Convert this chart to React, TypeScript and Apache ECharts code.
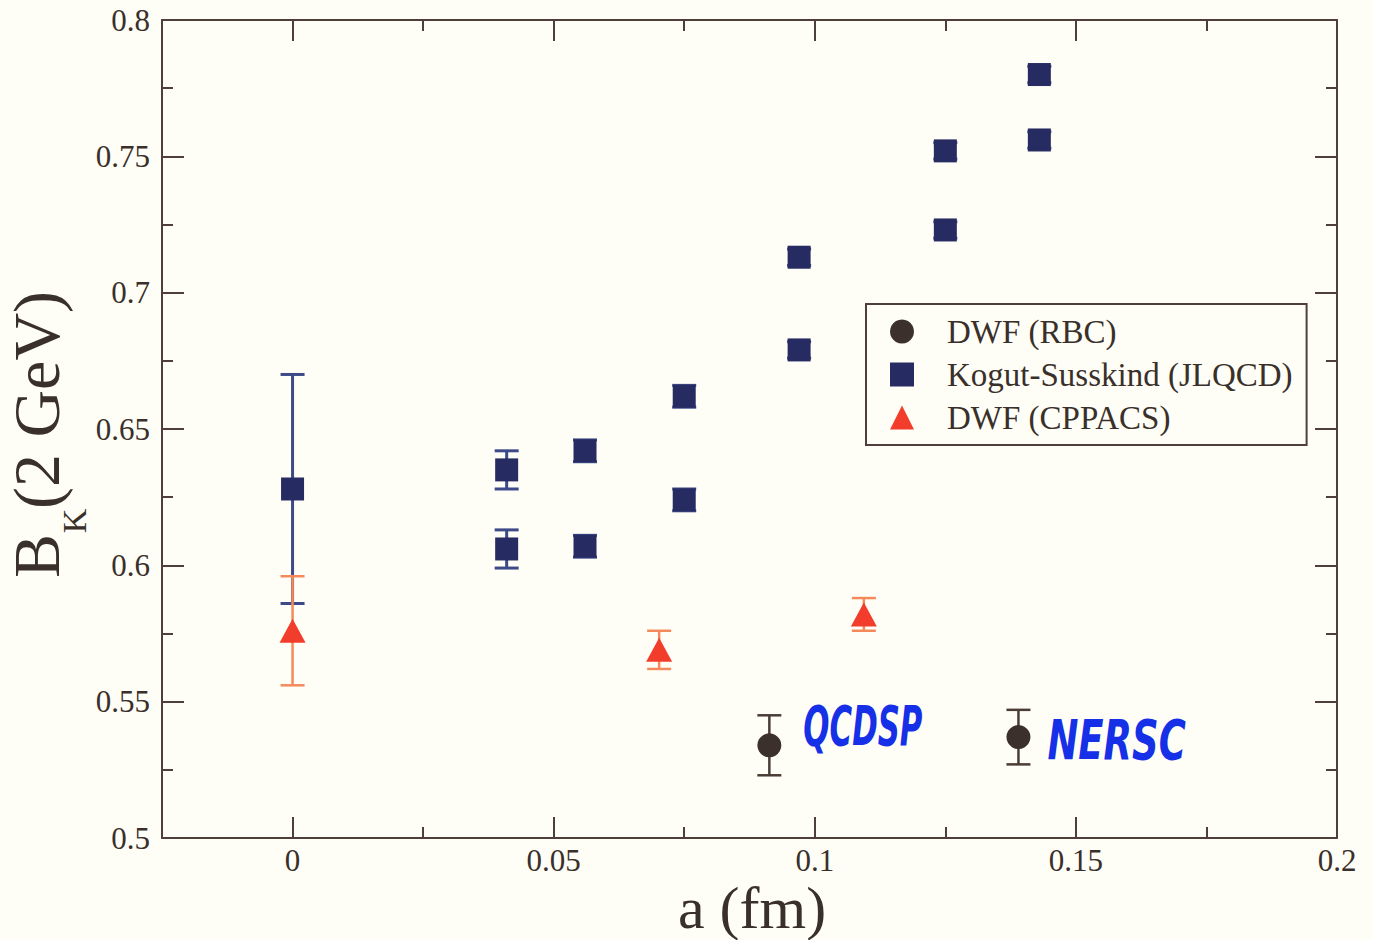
import React, { useEffect, useRef } from "react";
import * as echarts from "echarts";

// ---- data ----
const rbcX = [0.0913, 0.139];
const rbcY = [0.534, 0.537];
const rbcErr = [0.011, 0.010];
const rbcNotes = ["QCDSP", "NERSC"];

const ksX = [0, 0.041, 0.041, 0.056, 0.056, 0.075, 0.075, 0.097, 0.097, 0.125, 0.125, 0.143, 0.143];
const ksY = [0.628, 0.635, 0.606, 0.642, 0.607, 0.662, 0.624, 0.713, 0.679, 0.752, 0.723, 0.780, 0.756];
const ksErr = [0.042, 0.007, 0.007, 0.004, 0.004, 0.004, 0.004, 0.003, 0.003, 0.003, 0.003, 0.003, 0.003];

const cpX = [0, 0.0702, 0.1094];
const cpY = [0.576, 0.569, 0.582];
const cpErr = [0.020, 0.007, 0.006];

const xMajor = [0, 0.05, 0.1, 0.15, 0.2];
const xMinor = [0.025, 0.075, 0.125, 0.175];
const xMin = -0.025;
const xMax = 0.2;
const yMin = 0.5;
const yMax = 0.8;
const yStep = 0.05;

const legendNames = ["DWF (RBC)", "Kogut-Susskind (JLQCD)", "DWF (CPPACS)"];
const xTitle = "a (fm)";

const AXIS = "#4e4038";
const TEXT = "#3a302b";
const SERIF = "'Liberation Serif', 'Times New Roman', serif";

function zip(xs: number[], ys: number[], es?: number[]) {
  return xs.map((x, i) => (es ? [x, ys[i], es[i]] : [x, ys[i]]));
}

function errRender(color: string, capHalf: number, lw: number) {
  return (params: any, api: any) => {
    const x = api.value(0);
    const y = api.value(1);
    const e = api.value(2);
    const t = api.coord([x, y + e]);
    const b = api.coord([x, y - e]);
    const style = { stroke: color, lineWidth: lw, fill: null };
    return {
      type: "group",
      children: [
        { type: "line", shape: { x1: t[0], y1: t[1], x2: b[0], y2: b[1] }, style },
        { type: "line", shape: { x1: t[0] - capHalf, y1: t[1], x2: t[0] + capHalf, y2: t[1] }, style },
        { type: "line", shape: { x1: b[0] - capHalf, y1: b[1], x2: b[0] + capHalf, y2: b[1] }, style },
      ],
    };
  };
}

export default function App() {
  const ref = useRef<HTMLDivElement>(null);

  useEffect(() => {
    if (!ref.current) return;
    const chart = echarts.init(ref.current, undefined, { renderer: "svg" });

    const xBase = {
      type: "value",
      min: xMin,
      max: xMax,
      gridIndex: 0,
      splitLine: { show: false },
    };
    const yBase = {
      type: "value",
      min: yMin,
      max: yMax,
      interval: yStep,
      gridIndex: 0,
      splitLine: { show: false },
      axisLine: { show: true, onZero: false, lineStyle: { color: AXIS, width: 2 } },
      axisTick: { show: true, inside: true, length: 22, lineStyle: { color: AXIS, width: 2 } },
      minorTick: { show: true, splitNumber: 2, length: 11, lineStyle: { color: AXIS, width: 2 } },
    };

    const option: any = {
      animation: false,
      backgroundColor: "#fffef6",
      grid: { left: 162, right: 36, top: 20, bottom: 102, containLabel: false, outerBoundsMode: "none" },
      xAxis: [
        {
          ...xBase,
          position: "bottom",
          axisLine: { show: true, onZero: false, lineStyle: { color: AXIS, width: 2 } },
          axisTick: { show: true, inside: true, length: 21, customValues: xMajor, lineStyle: { color: AXIS, width: 2 } },
          axisLabel: {
            show: true,
            customValues: xMajor,
            color: TEXT,
            fontFamily: SERIF,
            fontSize: 31,
            margin: 7,
          },
        },
        {
          ...xBase,
          position: "bottom",
          axisLine: { show: false, onZero: false },
          axisTick: { show: true, inside: true, length: 11, customValues: xMinor, lineStyle: { color: AXIS, width: 2 } },
          axisLabel: { show: false },
        },
        {
          ...xBase,
          position: "top",
          axisLine: { show: true, onZero: false, lineStyle: { color: AXIS, width: 2 } },
          axisTick: { show: true, inside: true, length: 21, customValues: xMajor, lineStyle: { color: AXIS, width: 2 } },
          axisLabel: { show: false },
        },
        {
          ...xBase,
          position: "top",
          axisLine: { show: false, onZero: false },
          axisTick: { show: true, inside: true, length: 11, customValues: xMinor, lineStyle: { color: AXIS, width: 2 } },
          axisLabel: { show: false },
        },
      ],
      yAxis: [
        {
          ...yBase,
          position: "left",
          axisLabel: { show: true, color: TEXT, fontFamily: SERIF, fontSize: 31, margin: 12 },
        },
        {
          ...yBase,
          position: "right",
          axisLabel: { show: false },
        },
      ],
      legend: {
        data: legendNames,
        orient: "vertical",
        left: 866,
        top: 304,
        itemWidth: 24,
        itemHeight: 24,
        itemGap: 10,
        padding: [11, 14, 11, 24],
        borderColor: AXIS,
        borderWidth: 2,
        borderRadius: 0,
        backgroundColor: "#fffef6",
        selectedMode: false,
        textStyle: { color: TEXT, fontFamily: SERIF, fontSize: 33, lineHeight: 30, padding: [0, 0, 0, 28] },
      },
      series: [
        {
          type: "custom",
          name: "ks-err",
          silent: true,
          renderItem: errRender("#3d4a88", 12, 3),
          data: zip(ksX, ksY, ksErr),
          z: 1,
        },
        {
          type: "custom",
          name: "cp-err",
          silent: true,
          renderItem: errRender("#f48a5c", 12, 2.5),
          data: zip(cpX, cpY, cpErr),
          z: 1,
        },
        {
          type: "custom",
          name: "rbc-err",
          silent: true,
          renderItem: errRender("#4a3d36", 12, 2.5),
          data: zip(rbcX, rbcY, rbcErr),
          z: 1,
        },
        {
          type: "scatter",
          name: legendNames[1],
          symbol: "rect",
          symbolSize: 23,
          itemStyle: { color: "#262b62", opacity: 1 },
          data: zip(ksX, ksY),
          z: 3,
        },
        {
          type: "scatter",
          name: legendNames[2],
          symbol: "triangle",
          symbolSize: [26, 24],
          itemStyle: { color: "#f23d2c", opacity: 1 },
          data: zip(cpX, cpY),
          z: 3,
        },
        {
          type: "scatter",
          name: legendNames[0],
          symbol: "circle",
          symbolSize: 24,
          itemStyle: { color: "#3b302c", opacity: 1 },
          data: zip(rbcX, rbcY),
          z: 3,
        },
      ],
    };

    chart.setOption(option);

    // annotations tied to data points, plus the axis titles
    const noteOffsets = [
      [34, -20, 0.55],
      [29, 2, 0.66],
    ];
    const notes = rbcX.map((x, i) => {
      const p = chart.convertToPixel({ xAxisIndex: 0, yAxisIndex: 0 }, [x, rbcY[i]]) as number[];
      return {
        type: "text",
        x: p[0] + noteOffsets[i][0],
        y: p[1] + noteOffsets[i][1],
        scaleX: noteOffsets[i][2],
        scaleY: 1,
        z: 10,
        style: {
          text: rbcNotes[i],
          fill: "#1530e6",
          fontFamily: "'DejaVu Sans', sans-serif",
          fontWeight: "bold",
          fontStyle: "italic",
          fontSize: 56,
          textAlign: "left",
          textVerticalAlign: "middle",
          align: "left",
          verticalAlign: "middle",
        },
      };
    });

    const ytitle = [
      { text: "B", x: 36, y: 556, size: 66 },
      { text: "K", x: 74, y: 521, size: 34 },
      { text: "(2 GeV)", x: 36, y: 400, size: 66 },
    ].map((t) => ({
      type: "text",
      x: t.x,
      y: t.y,
      rotation: Math.PI / 2,
      z: 10,
      style: {
        text: t.text,
        fill: TEXT,
        fontFamily: SERIF,
        fontSize: t.size,
        textAlign: "center",
        textVerticalAlign: "middle",
        align: "center",
        verticalAlign: "middle",
      },
    }));

    const xtitle = {
      type: "text",
      x: 752,
      y: 908,
      z: 10,
      style: {
        text: xTitle,
        fill: TEXT,
        fontFamily: SERIF,
        fontSize: 60,
        lineHeight: 56,
        textAlign: "center",
        textVerticalAlign: "middle",
        align: "center",
        verticalAlign: "middle",
      },
    };

    chart.setOption({ graphic: [...notes, ...ytitle, xtitle] });

    return () => {
      chart.dispose();
    };
  }, []);

  return (
    <div
      ref={ref}
      style={{ position: "fixed", left: 0, top: 0, width: 1373, height: 940 }}
    />
  );
}
